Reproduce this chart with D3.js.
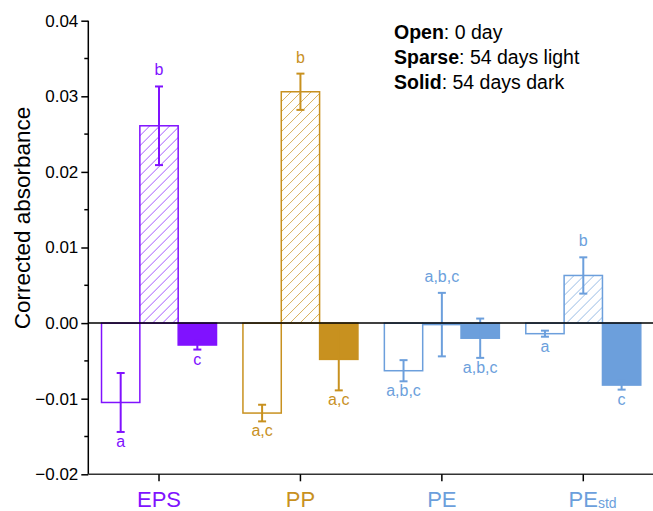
<!DOCTYPE html>
<html>
<head>
<meta charset="utf-8">
<script src="https://cdn.jsdelivr.net/npm/d3@7"></script>
<style>
  html, body { margin: 0; padding: 0; background: #fff; }
  svg { display: block; font-family: Arial, "Liberation Sans", sans-serif; }
</style>
</head>
<body>
<svg id="chart" width="653" height="511"></svg>
<script>
// ---- data ----
const categories = ["EPS", "PP", "PE", "PEstd"];
const seriesNames = ["Open", "Sparse", "Solid"];
const openValues   = [-0.0105, -0.0119, -0.0063, -0.0014];
const openErrors   = [0.0039, 0.0011, 0.0014, 0.0004];
const sparseValues = [0.0261, 0.0306, -0.0002, 0.0063];
const sparseErrors = [0.0052, 0.0024, 0.0042, 0.0024];
const solidValues  = [-0.0029, -0.0048, -0.0020, -0.0082];
const solidErrors  = [0.0006, 0.0041, 0.0026, 0.0006];
const openLetters   = ["a", "a,c", "a,b,c", "a"];
const sparseLetters = ["b", "b", "a,b,c", "b"];
const solidLetters  = ["c", "a,c", "a,b,c", "c"];
const yTicks = [-0.02, -0.01, 0.00, 0.01, 0.02, 0.03, 0.04];
const legendLines = [["Open", ": 0 day"], ["Sparse", ": 54 days light"], ["Solid", ": 54 days dark"]];

// ---- styling ----
const catColors = { EPS: "#8012FF", PP: "#C8911F", PE: "#6C9FDC", PEstd: "#6C9FDC" };
const seriesStyle = {
  Open:   { fill: "none",  labelSide: "below" },
  Sparse: { fill: "hatch", labelSide: "above" },
  Solid:  { fill: "solid", labelSide: "below" }
};

const seriesData = {
  Open:   { v: openValues,   e: openErrors,   l: openLetters },
  Sparse: { v: sparseValues, e: sparseErrors, l: sparseLetters },
  Solid:  { v: solidValues,  e: solidErrors,  l: solidLetters }
};

const svg = d3.select("#chart");
const mLeft = 88.3, mRight = 654, mTop = 20.7, mBottom = 474.3;

const x = d3.scaleBand().domain(categories).range([mLeft, mRight]).padding(0);
const xs = d3.scaleBand().domain(seriesNames).range([-57.5, 57.5]).padding(0);
const y = d3.scaleLinear().domain([-0.02, 0.04]).range([mBottom, mTop]);

const rows = [];
categories.forEach((c, i) => {
  seriesNames.forEach(s => {
    rows.push({ cat: c, ser: s, v: seriesData[s].v[i], e: seriesData[s].e[i], l: seriesData[s].l[i] });
  });
});
const bx = d => x(d.cat) + x.bandwidth() / 2 + xs(d.ser);
const by = d => Math.min(y(d.v), y(0));
const bh = d => Math.abs(y(d.v) - y(0));
const cx = d => bx(d) + xs.bandwidth() / 2;

const defs = svg.append("defs");
const g = svg.append("g");

// hatch (clipped diagonal lines) for sparse bars
rows.filter(d => seriesStyle[d.ser].fill === "hatch").forEach((d, k) => {
  const id = "clip-" + k;
  defs.append("clipPath").attr("id", id).append("rect")
    .attr("x", bx(d)).attr("y", by(d)).attr("width", xs.bandwidth()).attr("height", bh(d));
  const hg = g.append("g").attr("clip-path", `url(#${id})`);
  const x0 = bx(d), x1 = x0 + xs.bandwidth(), y0 = by(d), y1 = y0 + bh(d);
  const step = 10;
  const lines = d3.range(x0 - (y1 - y0) - step, x1 + step, step);
  hg.selectAll("line").data(lines).join("line")
    .attr("x1", s => s).attr("y1", y1)
    .attr("x2", s => s + (y1 - y0)).attr("y2", y0)
    .attr("stroke", catColors[d.cat]).attr("stroke-width", 1).attr("stroke-opacity", 0.7);
});

// bars
g.selectAll("rect.bar").data(rows).join("rect")
  .attr("class", "bar")
  .attr("x", bx)
  .attr("width", xs.bandwidth())
  .attr("y", by)
  .attr("height", bh)
  .attr("fill", d => seriesStyle[d.ser].fill === "solid" ? catColors[d.cat] : "none")
  .attr("stroke", d => catColors[d.cat])
  .attr("stroke-width", 1.5);

// error bars
const eb = g.selectAll("g.err").data(rows).join("g").attr("class", "err")
  .attr("stroke", d => catColors[d.cat]).attr("stroke-width", 2);
eb.append("line")
  .attr("x1", cx).attr("x2", cx)
  .attr("y1", d => y(d.v + d.e)).attr("y2", d => y(d.v - d.e));
eb.append("line")
  .attr("x1", d => cx(d) - 4).attr("x2", d => cx(d) + 4)
  .attr("y1", d => y(d.v + d.e)).attr("y2", d => y(d.v + d.e));
eb.append("line")
  .attr("x1", d => cx(d) - 4).attr("x2", d => cx(d) + 4)
  .attr("y1", d => y(d.v - d.e)).attr("y2", d => y(d.v - d.e));

// letters
g.selectAll("text.letter").data(rows).join("text")
  .attr("class", "letter")
  .attr("x", cx)
  .attr("y", d => seriesStyle[d.ser].labelSide === "above" ? y(d.v + d.e) - 11 : y(d.v - d.e) + 15)
  .attr("text-anchor", "middle")
  .attr("font-size", 16)
  .attr("fill", d => catColors[d.cat])
  .text(d => d.l);

// zero line
svg.append("line")
  .attr("x1", mLeft).attr("x2", 653)
  .attr("y1", y(0)).attr("y2", y(0))
  .attr("stroke", "#000").attr("stroke-width", 1.5);

// y axis
const yAxis = svg.append("g").attr("transform", `translate(${mLeft},0)`)
  .call(d3.axisLeft(y).tickValues(yTicks).tickFormat(d3.format(".2f")).tickSize(7).tickPadding(3));
yAxis.select(".domain").attr("stroke", "#000").attr("stroke-width", 1.5).attr("d", `M0,${mTop}V${mBottom}`);
yAxis.selectAll(".tick line").attr("stroke", "#000").attr("stroke-width", 1.5);
yAxis.selectAll(".tick text").attr("font-size", 17).attr("fill", "#000")
  .attr("font-family", "Arial, 'Liberation Sans', sans-serif");
// minor ticks
const minorTicks = yTicks.slice(0, -1).map(t => t + 0.005);
svg.append("g").selectAll("line").data(minorTicks).join("line")
  .attr("x1", mLeft - 4).attr("x2", mLeft)
  .attr("y1", d => y(d)).attr("y2", d => y(d))
  .attr("stroke", "#000").attr("stroke-width", 1.5);

// x axis
const xAxis = svg.append("g").attr("transform", `translate(0,${mBottom})`)
  .call(d3.axisBottom(x).tickSize(7).tickFormat(""));
xAxis.select(".domain").attr("stroke", "#333").attr("stroke-width", 1.5).attr("d", `M${mLeft},0H653`);
xAxis.selectAll(".tick line").attr("stroke", "#000").attr("stroke-width", 1.5);
xAxis.selectAll(".tick").each(function(c) {
  const t = d3.select(this);
  const main = c === "PEstd" ? "PE" : c;
  const txt = t.append("text")
    .attr("y", 32.5).attr("text-anchor", "middle")
    .attr("font-size", 22).attr("fill", catColors[c])
    .attr("font-family", "Arial, 'Liberation Sans', sans-serif")
    .text(main);
  if (c === "PEstd") {
    const w = txt.node().getComputedTextLength();
    t.append("text")
      .attr("x", w / 2).attr("y", 33.5)
      .attr("text-anchor", "start")
      .attr("font-size", 14).attr("fill", catColors[c])
      .attr("font-family", "Arial, 'Liberation Sans', sans-serif")
      .text("std");
  }
});

// y title
svg.append("text")
  .attr("transform", "translate(29.5,218) rotate(-90)")
  .attr("text-anchor", "middle")
  .attr("font-size", 22.5)
  .attr("fill", "#000")
  .text("Corrected absorbance");

// legend text
const leg = svg.append("g");
legendLines.forEach((ln, i) => {
  const t = leg.append("text").attr("x", 394).attr("y", 39.3 + i * 25).attr("font-size", 19.5).attr("fill", "#000");
  t.append("tspan").attr("font-weight", "bold").text(ln[0]);
  t.append("tspan").text(ln[1]);
});
</script>
</body>
</html>
